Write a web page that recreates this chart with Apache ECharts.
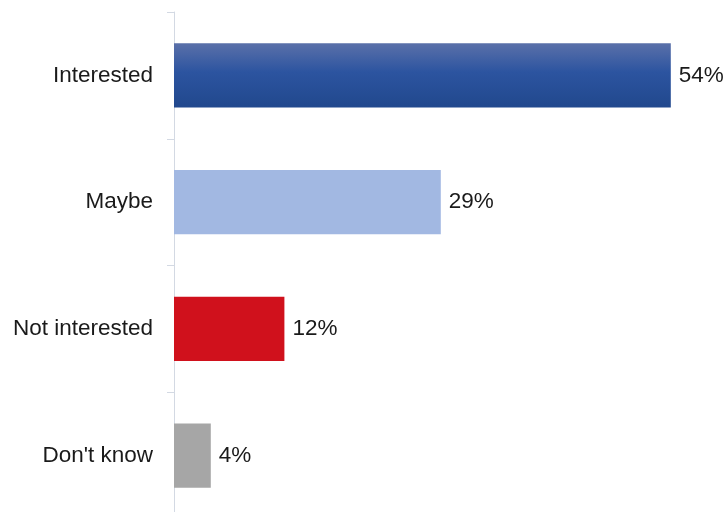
<!DOCTYPE html>
<html><head><meta charset="utf-8">
<script src="https://cdn.jsdelivr.net/npm/echarts@6/dist/echarts.min.js"></script>
<style>html,body{margin:0;padding:0;background:#fff;overflow:hidden}#c{width:728px;height:522px}</style>
</head><body><div id="c"></div>
<script>
const categories = ["Interested", "Maybe", "Not interested", "Don't know"];
const values = [54, 29, 12, 4];
const barColors = [
  {type:'linear',x:0,y:0,x2:0,y2:1,colorStops:[{offset:0,color:'#5a70a9'},{offset:0.45,color:'#2c54a0'},{offset:1,color:'#21488d'}]},
  '#a2b8e2', '#d0111c', '#a6a6a6'
];
const chart = echarts.init(document.getElementById('c'));
chart.setOption({
  animation:false,
  grid:{left:174, top:12, width:552, height:507, containLabel:false},
  xAxis:{type:'value', min:0, max:60, show:false},
  yAxis:{type:'category', data:categories, inverse:true,
    axisLine:{show:true, lineStyle:{color:'#d3d9e3', width:1}},
    axisTick:{show:true, length:7, lineStyle:{color:'#d3d9e3', width:1}},
    axisLabel:{margin:21, fontFamily:'Liberation Sans', fontSize:22.5, color:'#1a1a1a'}
  },
  series:[{type:'bar', barWidth:'50.5%',
    data: values.map((v,i)=>({value:v, itemStyle:{color:barColors[i]}})),
    label:{show:true, position:'right', distance:8, formatter:'{c}%', fontFamily:'Liberation Sans', fontSize:22.5, color:'#1a1a1a'}
  }]
});
</script></body></html>
